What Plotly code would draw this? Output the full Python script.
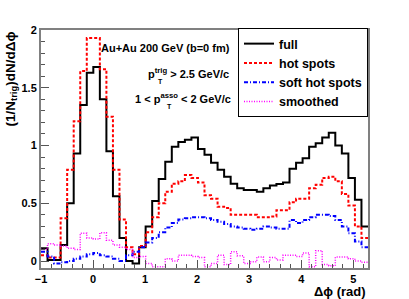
import numpy as np
import plotly.graph_objects as go

# ---- data (50 bins from -1 to 2*pi-1) ----
dphi_min = -1.0
n_bins = 50
full = [0.11, 0.01, 0.01, 0.14, 0.50, 0.93, 1.35, 1.63, 1.68, 1.40,
        0.95, 0.56, 0.20, 0.00, -0.02, 0.12, 0.30, 0.52, 0.71, 0.86,
        0.99, 1.03, 1.05, 1.07, 0.97, 0.92, 0.85, 0.79, 0.73, 0.67,
        0.63, 0.615, 0.615, 0.60, 0.63, 0.655, 0.667, 0.68, 0.80, 0.85,
        0.89, 0.99, 1.02, 1.07, 1.11, 1.00, 0.93, 0.72, 0.53, 0.30]
hot_spots = [0.05, 0.03, 0.03, 0.37, 0.79, 1.21, 1.645, 1.93, 1.93, 1.66,
             1.25, 0.79, 0.36, 0.12, 0.06, 0.13, 0.25, 0.38, 0.50, 0.60,
             0.67, 0.69, 0.745, 0.72, 0.68, 0.57, 0.54, 0.47, 0.46, 0.40,
             0.40, 0.40, 0.40, 0.38, 0.38, 0.385, 0.44, 0.44, 0.51, 0.54,
             0.54, 0.63, 0.66, 0.72, 0.73, 0.69, 0.58, 0.48, 0.30, 0.20]
soft_hot_spots = [0.08, 0.04, -0.02, -0.01, 0.00, 0.02, 0.04, 0.06, 0.07, 0.05,
                  0.04, 0.02, 0.00, 0.05, 0.08, 0.12, 0.16, 0.20, 0.25, 0.29,
                  0.33, 0.36, 0.37, 0.38, 0.38, 0.37, 0.355, 0.34, 0.32, 0.30,
                  0.29, 0.28, 0.27, 0.28, 0.30, 0.29, 0.28, 0.28, 0.355, 0.33,
                  0.355, 0.38, 0.40, 0.40, 0.39, 0.355, 0.30, 0.24, 0.17, 0.12]
smoothed = [0.10, 0.15, 0.14, 0.13, 0.11, 0.10, 0.24, 0.20, 0.19, 0.245,
            0.18, 0.14, 0.12, 0.10, 0.03, 0.04, -0.02, -0.05, -0.05, 0.02,
            0.00, 0.05, 0.05, 0.04, 0.03, -0.05, -0.02, 0.05, -0.03, 0.08,
            0.045, -0.02, -0.005, 0.035, -0.005, 0.03, 0.01, 0.05, 0.05, 0.04,
            0.07, -0.05, 0.09, -0.03, -0.04, 0.035, 0.035, 0.02, 0.00, -0.01]
x_ticks = [-1, 0, 1, 2, 3, 4, 5]
y_ticks = [0, 0.5, 1, 1.5, 2]
y_ticktext = ["0", "0.5", "1", "1.5", "2"]

width = 2 * np.pi / n_bins
edges = dphi_min + np.arange(n_bins + 1) * width

W, H = 409, 299
L, R, T, B = 41, 368, 30, 268


def px(x):
    return (x - L) / (R - L)


def py(y):
    return (B - y) / (B - T)


FONT = "Liberation Sans, Arial, Helvetica, sans-serif"

fig = go.Figure()
series = [
    ("full", full, dict(color="black", width=2)),
    ("hot spots", hot_spots, dict(color="#ff0000", width=2, dash="3px,2px")),
    ("soft hot spots", soft_hot_spots, dict(color="#0000ff", width=2, dash="4px,2px,1px,2px")),
    ("smoothed", smoothed, dict(color="#ff00ff", width=1.5, dash="1px,1.5px")),
]
for name, vals, line in series:
    fig.add_trace(go.Scatter(
        x=edges, y=list(vals) + [vals[-1]], mode="lines", line_shape="hv",
        name=name, line=line))

axis_common = dict(
    showline=True, linecolor="#808080", linewidth=2, mirror=True,
    showgrid=False, zeroline=False, ticks="inside", ticklen=8,
    tickwidth=1, tickcolor="#555555",
    tickfont=dict(family=FONT, size=11, color="black", weight="bold"),
)
fig.update_xaxes(range=[dphi_min, dphi_min + 2 * np.pi], tickvals=x_ticks,
                 minor=dict(dtick=0.2, tick0=0, ticks="inside", ticklen=4,
                            tickcolor="#555555", showgrid=False),
                 **axis_common)
fig.update_yaxes(range=[-0.06, 2.0], tickvals=y_ticks, ticktext=y_ticktext,
                 minor=dict(dtick=0.1, tick0=0, ticks="inside", ticklen=4,
                            tickcolor="#555555", showgrid=False),
                 **axis_common)

bold = lambda s: dict(family=FONT, size=s, color="black", weight="bold")
ann = [
    dict(text="(1/N<sub>trig</sub>)dN/dΔϕ", textangle=-90, x=px(11), y=py(30),
         xanchor="center", yanchor="top", font=bold(13.5)),
    dict(text="Δϕ (rad)", x=px(368), y=py(291), xanchor="right", yanchor="middle",
         font=bold(13)),
    dict(text="Au+Au 200 GeV (b=0 fm)", x=px(232), y=py(48), xanchor="right",
         yanchor="middle", font=bold(11)),
    dict(text="p<sup>trig</sup> &gt; 2.5 GeV/c", x=px(231), y=py(73), xanchor="right",
         yanchor="middle", font=bold(11)),
    dict(text="T", x=px(156), y=py(81), xanchor="left", yanchor="middle", font=bold(7)),
    dict(text="1 &lt; p<sup>asso</sup> &lt; 2 GeV/c", x=px(233), y=py(98), xanchor="right",
         yanchor="middle", font=bold(11)),
    dict(text="T", x=px(165), y=py(106), xanchor="left", yanchor="middle", font=bold(7)),
]
for a in ann:
    a.update(xref="paper", yref="paper", showarrow=False)

fig.update_layout(
    width=W, height=H,
    margin=dict(l=L, r=W - R, t=T, b=H - B),
    paper_bgcolor="white", plot_bgcolor="white",
    annotations=ann,
    showlegend=True,
    legend=dict(x=1, xanchor="right", y=py(28), yanchor="top",
                bgcolor="white", bordercolor="black", borderwidth=1,
                font=bold(12.5), tracegroupgap=0),
)

fig.write_html("out.html", config={"displayModeBar": False},
               post_script="document.body.style.margin='0';document.body.style.padding='0';")
